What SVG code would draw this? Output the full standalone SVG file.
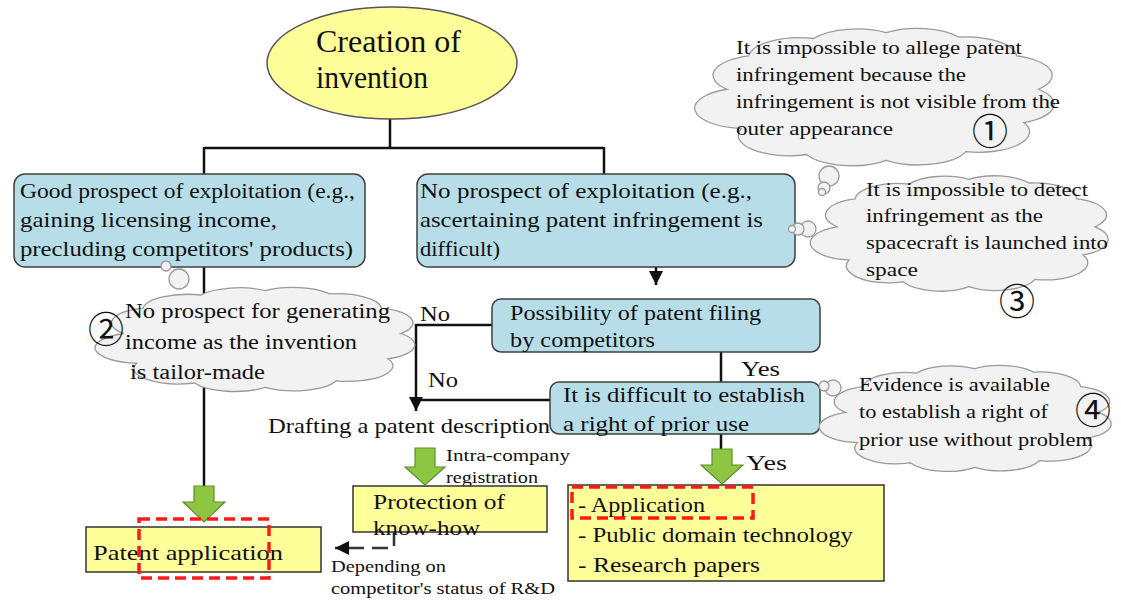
<svg xmlns="http://www.w3.org/2000/svg" xmlns:xlink="http://www.w3.org/1999/xlink" width="1121" height="603" viewBox="0 0 1121 603">
<style>
  text { font-family: "Liberation Serif", "Times New Roman", serif; fill: #111; }
  .t21 { font-size: 21px; }
  .t22 { font-size: 22px; }
  .t16 { font-size: 16px; }
  .t18 { font-size: 18px; }
  .t20 { font-size: 20px; }
  .t30 { font-size: 31px; }
  .num { font-family: "Noto Sans CJK JP", "DejaVu Sans", sans-serif; font-size: 36px; text-anchor: middle; fill: #111; }
  .blue { fill: #b7dee8; stroke: #404040; stroke-width: 1.5; }
  .yellow { fill: #ffff99; stroke: #333; stroke-width: 1.5; }
  .line { fill: none; stroke: #111; stroke-width: 2.5; }
  .dash { fill: none; stroke: #333; stroke-width: 2.5; stroke-dasharray: 16 8; }
  .red { fill: none; stroke: #ff1a1a; stroke-width: 3.5; stroke-dasharray: 11 6; }
  .green { fill: #8dc641; stroke: #5f8f2a; stroke-width: 1.2; }
  .cloud { fill: #f2f2f2; stroke: #9a9a9a; stroke-width: 1.3; }
</style>
<defs>
  <marker id="ah" markerUnits="userSpaceOnUse" markerWidth="16" markerHeight="16" refX="14" refY="7" orient="auto">
    <path d="M0 0 L14 7 L0 14 Z" fill="#111"/>
  </marker>
  <path id="cloudShape" class="cloud" vector-effect="non-scaling-stroke" d="M 8 45 A 14 14 0 0 1 14 22 A 14 14 0 0 1 32 10 A 14 14 0 0 1 52 6 A 14 14 0 0 1 72 9 A 14 14 0 0 1 88 22 A 14 14 0 0 1 94 45 A 14 14 0 0 1 90 68 A 14 14 0 0 1 74 88 A 14 14 0 0 1 52 94 A 14 14 0 0 1 30 90 A 14 14 0 0 1 12 72 A 14 14 0 0 1 8 45 Z"/>
</defs>
<rect width="1121" height="603" fill="#ffffff"/>

<g id="connectors">
  <path class="line" d="M390 118 V148 M204 148 H604 M204 147 V174 M604 147 V174"/>
  <path class="line" d="M204 267 V487"/>
  <path class="line" d="M656 267 V285" marker-end="url(#ah)"/>
  <path class="line" d="M492 325 H416 V411" marker-end="url(#ah)"/>
  <path class="line" d="M550 400 H416"/>
  <path class="line" d="M721 352 V382"/>
  <path class="line" d="M721 434 V449"/>
  <path class="dash" d="M394 530 V548 H335" marker-end="url(#ah)"/>
  <path class="green" d="M194 486 H214 V502 H225 L204 522 L183 502 H194 Z"/>
  <path class="green" d="M415 448 H435 V467 H445 L425 485 L405 467 H415 Z"/>
  <path class="green" d="M712 449 H732 V465 H743 L722 484 L701 465 H712 Z"/>
</g>

<g id="creation">
  <ellipse cx="392" cy="63" rx="125" ry="56" fill="#ffff99" stroke="#555" stroke-width="1.5"/>
  <text class="t30" x="316" y="52" textLength="145" lengthAdjust="spacingAndGlyphs">Creation of</text>
  <text class="t30" x="316" y="88" textLength="112" lengthAdjust="spacingAndGlyphs">invention</text>
</g>

<g id="good-prospect">
  <rect class="blue" x="14" y="174" width="351" height="93" rx="11"/>
  <text class="t21" x="20" y="198" textLength="335" lengthAdjust="spacingAndGlyphs">Good prospect of exploitation  (e.g.,</text>
  <text class="t21" x="20" y="227" textLength="257" lengthAdjust="spacingAndGlyphs">gaining licensing income,</text>
  <text class="t21" x="20" y="256" textLength="333" lengthAdjust="spacingAndGlyphs">precluding competitors' products)</text>
</g>

<g id="no-prospect">
  <rect class="blue" x="417" y="174" width="378" height="93" rx="11"/>
  <text class="t21" x="420" y="198" textLength="332" lengthAdjust="spacingAndGlyphs">No prospect of exploitation  (e.g.,</text>
  <text class="t21" x="420" y="227" textLength="343" lengthAdjust="spacingAndGlyphs">ascertaining patent infringement is</text>
  <text class="t21" x="420" y="256" textLength="80" lengthAdjust="spacingAndGlyphs">difficult)</text>
</g>

<g id="possibility">
  <rect class="blue" x="492" y="299" width="328" height="53" rx="9"/>
  <text class="t21" x="510" y="320" textLength="251" lengthAdjust="spacingAndGlyphs">Possibility  of patent filing</text>
  <text class="t21" x="510" y="347" textLength="145" lengthAdjust="spacingAndGlyphs">by competitors</text>
</g>

<g id="difficult">
  <rect class="blue" x="550" y="382" width="270" height="52" rx="9"/>
  <text class="t21" x="563" y="402" textLength="242" lengthAdjust="spacingAndGlyphs">It is difficult to establish</text>
  <text class="t21" x="563" y="431" textLength="186" lengthAdjust="spacingAndGlyphs">a right of prior use</text>
</g>

<g id="labels">
  <text class="t21" x="420" y="321" textLength="30" lengthAdjust="spacingAndGlyphs">No</text>
  <text class="t21" x="428" y="387" textLength="30" lengthAdjust="spacingAndGlyphs">No</text>
  <text class="t21" x="741" y="376" textLength="39" lengthAdjust="spacingAndGlyphs">Yes</text>
  <text class="t21" x="746" y="470" textLength="41" lengthAdjust="spacingAndGlyphs">Yes</text>
  <text class="t16" x="446" y="461" textLength="124" lengthAdjust="spacingAndGlyphs">Intra-company</text>
  <text class="t16" x="446" y="483" textLength="92" lengthAdjust="spacingAndGlyphs">registration</text>
  <text class="t16" x="331" y="572" textLength="115" lengthAdjust="spacingAndGlyphs">Depending on</text>
  <text class="t16" x="331" y="594" textLength="224" lengthAdjust="spacingAndGlyphs">competitor's status of R&amp;D</text>
</g>

<g id="drafting">
  <text class="t22" x="268" y="433" textLength="282" lengthAdjust="spacingAndGlyphs">Drafting a patent description</text>
</g>

<g id="protection">
  <rect class="yellow" x="353" y="486" width="194" height="46"/>
  <text class="t22" x="373" y="509" textLength="132" lengthAdjust="spacingAndGlyphs">Protection of</text>
  <text class="t22" x="373" y="535" textLength="107" lengthAdjust="spacingAndGlyphs">know-how</text>
</g>

<g id="patent-application">
  <rect class="yellow" x="86" y="527" width="235" height="45"/>
  <text class="t22" x="93" y="560" textLength="190" lengthAdjust="spacingAndGlyphs">Patent application</text>
  <rect class="red" x="139" y="519" width="130" height="59"/>
</g>

<g id="options">
  <rect class="yellow" x="568" y="485" width="316" height="96"/>
  <text class="t21" x="578" y="512" textLength="127" lengthAdjust="spacingAndGlyphs">- Application</text>
  <text class="t21" x="578" y="542" textLength="275" lengthAdjust="spacingAndGlyphs">- Public domain technology</text>
  <text class="t21" x="578" y="572" textLength="182" lengthAdjust="spacingAndGlyphs">- Research papers</text>
  <rect class="red" x="572" y="487" width="181" height="31"/>
</g>

<g id="cloud1">
  <circle class="cloud" cx="829" cy="176" r="10"/>
  <circle class="cloud" cx="824" cy="188" r="6"/>
  <circle class="cloud" cx="822" cy="192" r="3.5"/>
  <use xlink:href="#cloudShape" href="#cloudShape" transform="translate(698,24) scale(3.62,1.45)"/>
  <text class="t18" x="736" y="54" textLength="286" lengthAdjust="spacingAndGlyphs">It is impossible to allege patent</text>
  <text class="t18" x="736" y="81" textLength="230" lengthAdjust="spacingAndGlyphs">infringement because the</text>
  <text class="t18" x="736" y="108" textLength="324" lengthAdjust="spacingAndGlyphs">infringement is not visible from the</text>
  <text class="t18" x="736" y="135" textLength="157" lengthAdjust="spacingAndGlyphs">outer appearance</text>
  <text class="num" x="990" y="145">①</text>
</g>

<g id="cloud3">
  <circle class="cloud" cx="808" cy="229" r="8"/>
  <circle class="cloud" cx="798" cy="229" r="6"/>
  <circle class="cloud" cx="792" cy="229" r="3.5"/>
  <use xlink:href="#cloudShape" href="#cloudShape" transform="translate(813,172) scale(3.0,1.22)"/>
  <text class="t18" x="866" y="196" textLength="222" lengthAdjust="spacingAndGlyphs">It is impossible to detect</text>
  <text class="t18" x="866" y="222" textLength="177" lengthAdjust="spacingAndGlyphs">infringement as the</text>
  <text class="t18" x="866" y="249" textLength="242" lengthAdjust="spacingAndGlyphs">spacecraft is launched into</text>
  <text class="t18" x="866" y="276" textLength="52" lengthAdjust="spacingAndGlyphs">space</text>
  <text class="num" x="1017" y="315">③</text>
</g>

<g id="cloud4">
  <circle class="cloud" cx="833" cy="388" r="8"/>
  <circle class="cloud" cx="824" cy="386" r="5"/>
  <use xlink:href="#cloudShape" href="#cloudShape" transform="translate(822,362) scale(2.94,1.12)"/>
  <text class="t18" x="859" y="391" textLength="191" lengthAdjust="spacingAndGlyphs">Evidence is available</text>
  <text class="t18" x="859" y="418" textLength="189" lengthAdjust="spacingAndGlyphs">to establish a right of</text>
  <text class="t18" x="859" y="446" textLength="234" lengthAdjust="spacingAndGlyphs">prior use without problem</text>
  <text class="num" x="1093" y="424">④</text>
</g>

<g id="cloud2">
  <circle class="cloud" cx="166" cy="266" r="5"/>
  <circle class="cloud" cx="179" cy="279" r="10"/>
  <use xlink:href="#cloudShape" href="#cloudShape" transform="translate(98,284) scale(3.22,1.1)"/>
  <text class="t20" x="125" y="318" textLength="265" lengthAdjust="spacingAndGlyphs">No prospect for generating</text>
  <text class="t20" x="125" y="349" textLength="232" lengthAdjust="spacingAndGlyphs">income as the invention</text>
  <text class="t20" x="130" y="379" textLength="135" lengthAdjust="spacingAndGlyphs">is tailor-made</text>
  <text class="num" x="106" y="343">②</text>
</g>
</svg>
